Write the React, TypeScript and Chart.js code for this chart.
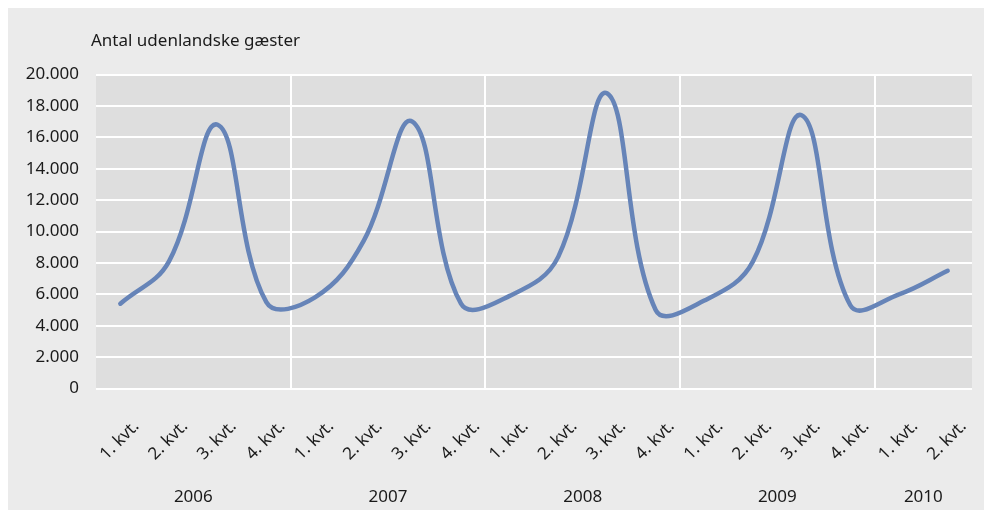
import React, { useEffect, useRef } from "react";
import { Chart, registerables } from "chart.js";

Chart.register(...registerables);

const quarterLabels = [
  "1. kvt.", "2. kvt.", "3. kvt.", "4. kvt.",
  "1. kvt.", "2. kvt.", "3. kvt.", "4. kvt.",
  "1. kvt.", "2. kvt.", "3. kvt.", "4. kvt.",
  "1. kvt.", "2. kvt.", "3. kvt.", "4. kvt.",
  "1. kvt.", "2. kvt.",
];
const years = ["2006", "2007", "2008", "2009", "2010"];
const quartersPerYear = [4, 4, 4, 4, 2];
const guests = [
  5400, 8100, 16800, 5500,
  5800, 9400, 17000, 5400,
  5900, 8400, 18800, 5000,
  5600, 8100, 17400, 5300,
  6000, 7500,
];
const yTicks = [0, 2000, 4000, 6000, 8000, 10000, 12000, 14000, 16000, 18000, 20000];
const title = "Antal udenlandske gæster";

const FONT = "'Noto Sans', sans-serif";

const fmt = (v: number) => String(v).replace(/\B(?=(\d{3})+(?!\d))/g, ".");

export default function App() {
  const ref = useRef<HTMLCanvasElement | null>(null);

  useEffect(() => {
    const canvas = ref.current;
    if (!canvas) return;

    const plotBg = {
      id: "plotBg",
      beforeDraw(chart: any) {
        const { ctx, chartArea } = chart;
        ctx.save();
        ctx.fillStyle = "#dedede";
        ctx.fillRect(chartArea.left, chartArea.top, chartArea.right - chartArea.left, chartArea.bottom - chartArea.top);
        ctx.restore();
      },
    };

    const extraText = {
      id: "extraText",
      afterDraw(chart: any) {
        const { ctx, chartArea } = chart;
        const xs = chart.scales.x;
        ctx.save();
        ctx.fillStyle = "#1a1a1a";
        ctx.font = `17px ${FONT}`;
        ctx.textAlign = "left";
        ctx.textBaseline = "alphabetic";
        ctx.fillText(title, chartArea.left - 5, chartArea.top - 29);
        ctx.textAlign = "center";
        ctx.textBaseline = "middle";
        let start = 0;
        years.forEach((y, i) => {
          const end = start + quartersPerYear[i] - 1;
          const x = (xs.getPixelForValue(start) + xs.getPixelForValue(end)) / 2;
          ctx.fillText(y, x, chartArea.bottom + 109);
          start = end + 1;
        });
        ctx.restore();
      },
    };

    const chart = new Chart(canvas, {
      type: "line",
      data: {
        labels: quarterLabels,
        datasets: [
          {
            data: guests,
            borderColor: "#6684b8",
            borderWidth: 4.5,
            pointRadius: 0,
            tension: 0.4,
            fill: false,
            borderCapStyle: "round",
            borderJoinStyle: "round",
          },
        ],
      },
      options: {
        responsive: false,
        animation: false,
        layout: { padding: { left: 0, right: 12, top: 66.5, bottom: 0 } },
        plugins: {
          legend: { display: false },
          tooltip: { enabled: false },
          title: { display: false },
        },
        scales: {
          x: {
            offset: true,
            grid: {
              offset: true,
              drawTicks: false,
              lineWidth: 2,
              color: (c: any) => (c.index > 0 && c.index % 4 === 0 ? "#ffffff" : "rgba(0,0,0,0)"),
            },
            border: { display: false },
            ticks: {
              autoSkip: false,
              maxRotation: 45,
              minRotation: 45,
              padding: 28,
              labelOffset: 16,
              color: "#1a1a1a",
              font: { family: FONT, size: 17 },
            },
            afterFit: (s: any) => {
              s.height = 121.5;
              s.paddingLeft = 0;
              s.paddingRight = 0;
            },
          },
          y: {
            min: 0,
            max: 20000,
            afterBuildTicks: (s: any) => {
              s.ticks = yTicks.map((v) => ({ value: v }));
            },
            grid: { drawTicks: false, lineWidth: 2, color: "#ffffff" },
            border: { display: false },
            ticks: {
              padding: 17,
              color: "#1a1a1a",
              font: { family: FONT, size: 17 },
              callback: (v: any) => fmt(Number(v)),
            },
            afterFit: (s: any) => {
              s.width = 88;
              s.paddingTop = 0;
              s.paddingBottom = 0;
            },
          },
        },
      },
      plugins: [plotBg, extraText],
    });

    return () => chart.destroy();
  }, []);

  return (
    <div
      style={{
        position: "fixed",
        left: 8,
        top: 8,
        width: 976,
        height: 502,
        background: "#ebebeb",
      }}
    >
      <canvas ref={ref} width={976} height={502} style={{ width: 976, height: 502, display: "block" }} />
    </div>
  );
}
